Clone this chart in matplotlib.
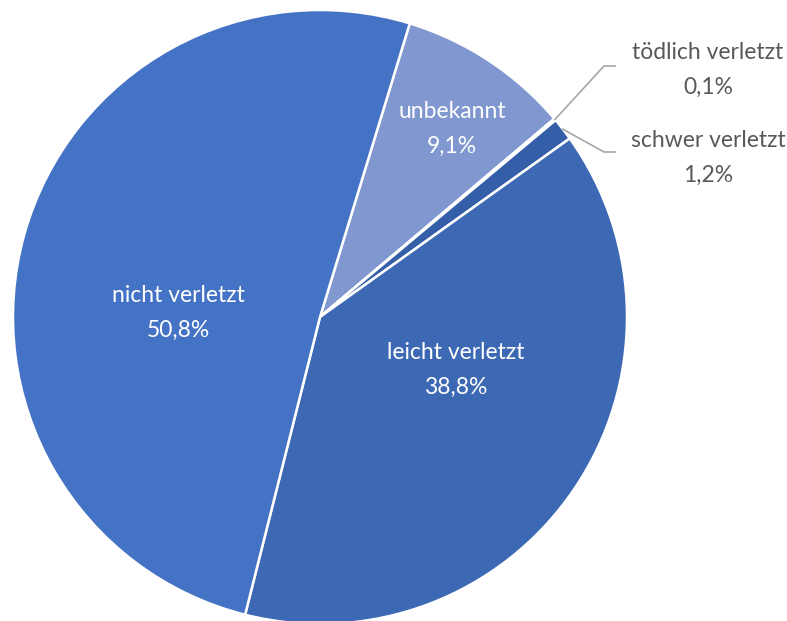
import matplotlib
matplotlib.use("Agg")
import matplotlib.pyplot as plt
import numpy as np

categories = ["unbekannt", "tödlich verletzt", "schwer verletzt", "leicht verletzt", "nicht verletzt"]
values = [9.1, 0.1, 1.2, 38.8, 50.8]
value_labels = ["9,1%", "0,1%", "1,2%", "38,8%", "50,8%"]
colors = ["#8097D0", "#A9B8E0", "#345FA8", "#3D69B4", "#4472C4"]

plt.rcParams['font.family'] = ['Lato', 'DejaVu Sans']

W, H = 787, 621
fig = plt.figure(figsize=(W / 100, H / 100), dpi=100)
cx, cy, r = 320, 317, 307
ax = fig.add_axes([(cx - r) / W, (H - cy - r) / H, 2 * r / W, 2 * r / H])
ax.set_xlim(-1, 1)
ax.set_ylim(-1, 1)
ax.axis("off")

wedges, _ = ax.pie(values, colors=colors, startangle=73, counterclock=False,
                   radius=1, center=(0, 0), frame=False,
                   wedgeprops=dict(edgecolor="white", linewidth=1.8))
ax.set_xlim(-1, 1)
ax.set_ylim(-1, 1)

def px(x, y):
    return ((x - cx) / r, (cy - y) / r)

fs = 16.5
ls = 1.8
inside = {"unbekannt": (452, 129), "nicht verletzt": (178, 313), "leicht verletzt": (456, 370)}
for cat, lab in zip(categories, value_labels):
    if cat in inside:
        x, y = px(*inside[cat])
        ax.text(x, y, f"{cat}\n{lab}", ha="center", va="center", color="white",
                fontsize=fs, linespacing=ls)

outside = {"tödlich verletzt": ((708, 70), (604, 66)), "schwer verletzt": ((708, 158), (604, 152))}
for w, cat, lab in zip(wedges, categories, value_labels):
    if cat in outside:
        (tx, ty), (kx, ky) = outside[cat]
        ang = np.deg2rad((w.theta1 + w.theta2) / 2)
        sx, sy = np.cos(ang), np.sin(ang)
        k1 = px(kx, ky)
        k2 = px(kx + 11, ky)
        ax.plot([sx, k1[0], k2[0]], [sy, k1[1], k2[1]], color="#A6A6A6", lw=1.2, clip_on=False)
        x, y = px(tx, ty)
        ax.text(x, y, f"{cat}\n{lab}", ha="center", va="center", color="#595959",
                fontsize=fs, linespacing=ls, clip_on=False)

fig.savefig("out.png", dpi=100)
